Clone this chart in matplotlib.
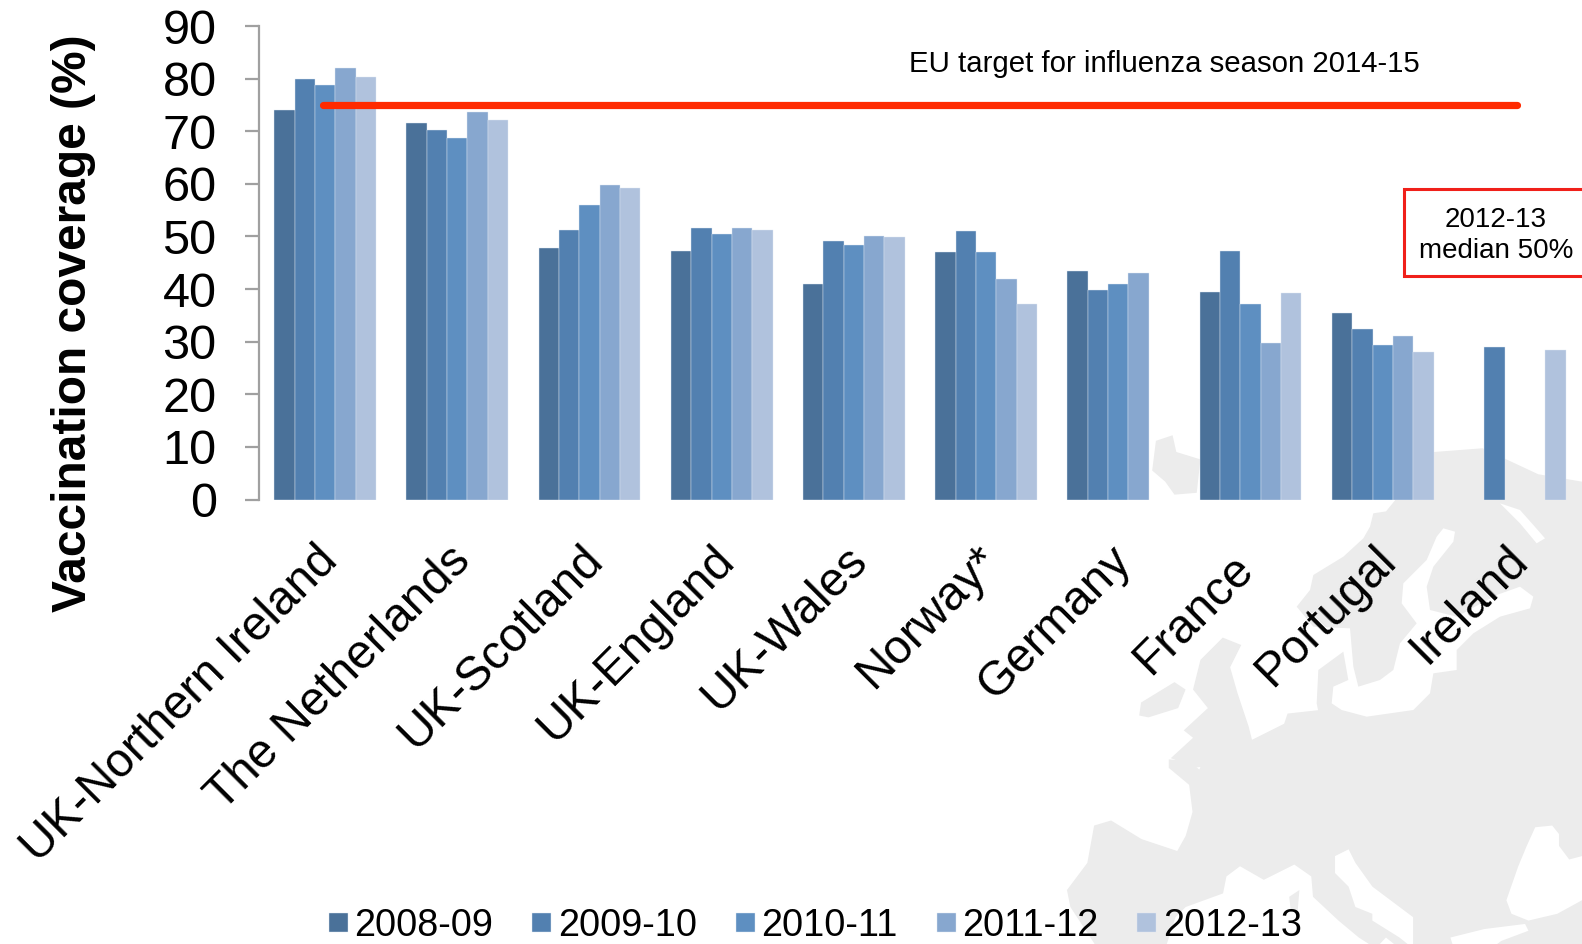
import matplotlib
matplotlib.use("Agg")
import matplotlib.pyplot as plt
from matplotlib.patches import Polygon, Rectangle
import matplotlib.transforms as mtrans
import numpy as np

plt.rcParams['font.family'] = ['Liberation Sans', 'DejaVu Sans']

countries = ['UK-Northern Ireland', 'The Netherlands', 'UK-Scotland', 'UK-England', 'UK-Wales',
             'Norway*', 'Germany', 'France', 'Portugal', 'Ireland']
seasons = ['2008-09', '2009-10', '2010-11', '2011-12', '2012-13']
nan = float('nan')
s0809 = [74, 71.5, 47.8, 47.2, 40.9, 47, 43.4, 39.4, 35.5, nan]
s0910 = [80, 70.3, 51.2, 51.6, 49.2, 51, 39.8, 47.3, 32.4, 28.9]
s1011 = [78.8, 68.8, 56, 50.5, 48.4, 47, 41, 37.2, 29.3, nan]
s1112 = [82, 73.7, 59.7, 51.7, 50, 42, 43, 29.7, 31, nan]
s1213 = [80.3, 72.2, 59.2, 51.3, 49.8, 37.2, nan, 39.2, 28.1, 28.4]
series = [s0809, s0910, s1011, s1112, s1213]
colors = ['#4a7199', '#5280b0', '#5e8fc1', '#87a7cf', '#b0c2dd']
eu_target = 75


# background map, traced by hand from three zooms of the lower right corner
def z(pts):
    return [(1000 + x / 2.694, 400 + y / 2.694) for x, y in pts]


def a(pts):
    return [(1280 + x / 3, 480 + y / 3) for x, y in pts]


def b(pts):
    return [(1050 + x / 2.947, 700 + y / 2.947) for x, y in pts]


mainland = (
    z([(1040, 300), (1170, 140), (1300, 130), (1450, 200), (1568, 220)])
    + [(1582, 500), (1582, 944)]
    + b([(140, 732), (60, 610), (50, 560), (110, 480), (130, 370), (180, 355), (270, 410), (375, 445), (400, 400),
         (420, 330), (410, 250), (350, 200), (350, 175), (410, 180), (440, 205), (460, 160), (500, 185), (560, 155),
         (570, 130), (650, 90), (690, 70), (700, 40), (790, 30)])
    + a([(110, 670), (115, 570), (190, 515), (205, 600), (160, 620), (155, 670), (185, 690), (260, 710), (400, 690),
         (450, 640), (460, 580), (530, 570), (530, 510), (580, 460), (660, 410), (750, 385), (760, 350), (720, 320),
         (650, 345), (530, 410), (450, 390), (440, 320), (460, 260), (520, 185), (525, 155), (490, 145), (470, 170),
         (440, 240), (370, 310), (365, 370), (410, 430), (360, 490), (340, 570), (300, 600), (235, 620), (220, 560),
         (210, 445), (100, 440), (50, 380), (90, 330), (100, 285), (190, 230), (250, 175), (270, 140), (280, 100)])
)
iceland = z([(420, 110), (465, 95), (475, 140), (540, 160), (530, 250), (470, 255), (445, 220), (410, 190)])
ireland_map = z([(375, 850), (380, 815), (470, 760), (500, 780), (480, 830), (400, 855)])
britain = z([(540, 700), (600, 640), (650, 660), (620, 720), (640, 790), (670, 880), (680, 920), (640, 975), (530, 990),
             (460, 965), (520, 910), (495, 890), (560, 830), (520, 780)])
corsica = b([(705, 580), (735, 560), (730, 620), (710, 625)])
med = b([(340, 732), (370, 640), (400, 610), (510, 570), (520, 520), (560, 490), (630, 530), (720, 485), (770, 520),
         (775, 580), (850, 650), (910, 700), (960, 732)])
adriatic = b([(840, 460), (880, 440), (900, 480), (950, 550), (1070, 640), (1070, 732), (1030, 700), (950, 650),
              (950, 630), (900, 610), (880, 550), (840, 510)])
ionian = b([(960, 732), (990, 700), (1030, 732)])
black_sea = b([(1430, 375), (1480, 370), (1500, 395), (1500, 430), (1530, 470), (1568, 460), (1568, 590), (1495, 630),
               (1410, 650), (1360, 630), (1345, 590), (1380, 490), (1405, 430)])
aegean = b([(1180, 700), (1280, 675), (1400, 660), (1410, 680), (1330, 710), (1300, 732), (1190, 732)])
lakes = a([(660, 70), (720, 90), (760, 135), (795, 175), (770, 190), (720, 130)])

fig = plt.figure(figsize=(15.82, 9.44), dpi=100)
bg = fig.add_axes([0, 0, 1, 1])
bg.set_xlim(0, 1582)
bg.set_ylim(944, 0)
bg.axis('off')
for p in [mainland, iceland, ireland_map, britain]:
    bg.add_patch(Polygon(p, closed=True, fc='#ececec', ec='none'))
for p in [med, adriatic, ionian, black_sea, aegean, lakes]:
    bg.add_patch(Polygon(p, closed=True, fc='white', ec='none'))
bg.add_patch(Polygon(corsica, closed=True, fc='#ececec', ec='none'))

ax = fig.add_axes([259 / 1582, 1 - 499.5 / 944, (1581 - 259) / 1582, (499.5 - 26) / 944])
ax.patch.set_alpha(0)

x = np.arange(len(countries))
w = 0.154
for i, vals in enumerate(series):
    ax.bar(x + (i - 2) * w, vals, w, color=colors[i], edgecolor='#dfe7f2', linewidth=0.3, label=seasons[i])

ax.plot([-0.016, 9.015], [eu_target, eu_target], color='#ff2a00', lw=5.2, solid_capstyle='round')

ax.set_xlim(-0.5, 9.5)
ax.set_ylim(0, 90)
ax.set_yticks(range(0, 100, 10))
ax.tick_params(axis='y', labelsize=35, length=10, width=1.6, color='#a0a0a0', pad=20.5)
ax.tick_params(axis='x', length=0)
for s in ['top', 'right', 'bottom']:
    ax.spines[s].set_visible(False)
ax.spines['left'].set_color('#a0a0a0')
ax.spines['left'].set_linewidth(1.6)
ax.set_ylabel('Vaccination coverage (%)', fontsize=34.5, fontweight='bold', va='center')
ax.yaxis.set_label_coords((74 - 259) / 1322, (499.5 - 323) / 473.5)

ax.set_xticks(x)
ax.set_xticklabels(countries, fontsize=34.4, rotation=45, ha='right', va='top', rotation_mode='anchor')
for lab in ax.get_xticklabels():
    # France sits a little off the others in the original
    dx, dy = (-20, -42) if lab.get_text() == 'France' else (-10, -33)
    shift = mtrans.ScaledTranslation(dx / 100, dy / 100, fig.dpi_scale_trans)
    lab.set_transform(lab.get_transform() + shift)

bg.text(1164, 64.5, 'EU target for influenza season 2014-15', fontsize=21.2, ha='center', va='center')
bg.add_patch(Rectangle((1404, 189), 190, 87, fc='white', ec='#f0201a', lw=2.2))
bg.text(1496, 220, '2012-13', fontsize=20, ha='center', va='center')
bg.text(1496, 251, 'median 50%', fontsize=20, ha='center', va='center')

ax.legend(loc='lower left', bbox_to_anchor=(329 / 1582, 0), bbox_transform=fig.transFigure, ncol=5,
          frameon=False, fontsize=27.3, handlelength=0.5, handleheight=0.4, handletextpad=0.17,
          columnspacing=1.03, borderpad=0, borderaxespad=0)

fig.savefig('out.png', dpi=100)
